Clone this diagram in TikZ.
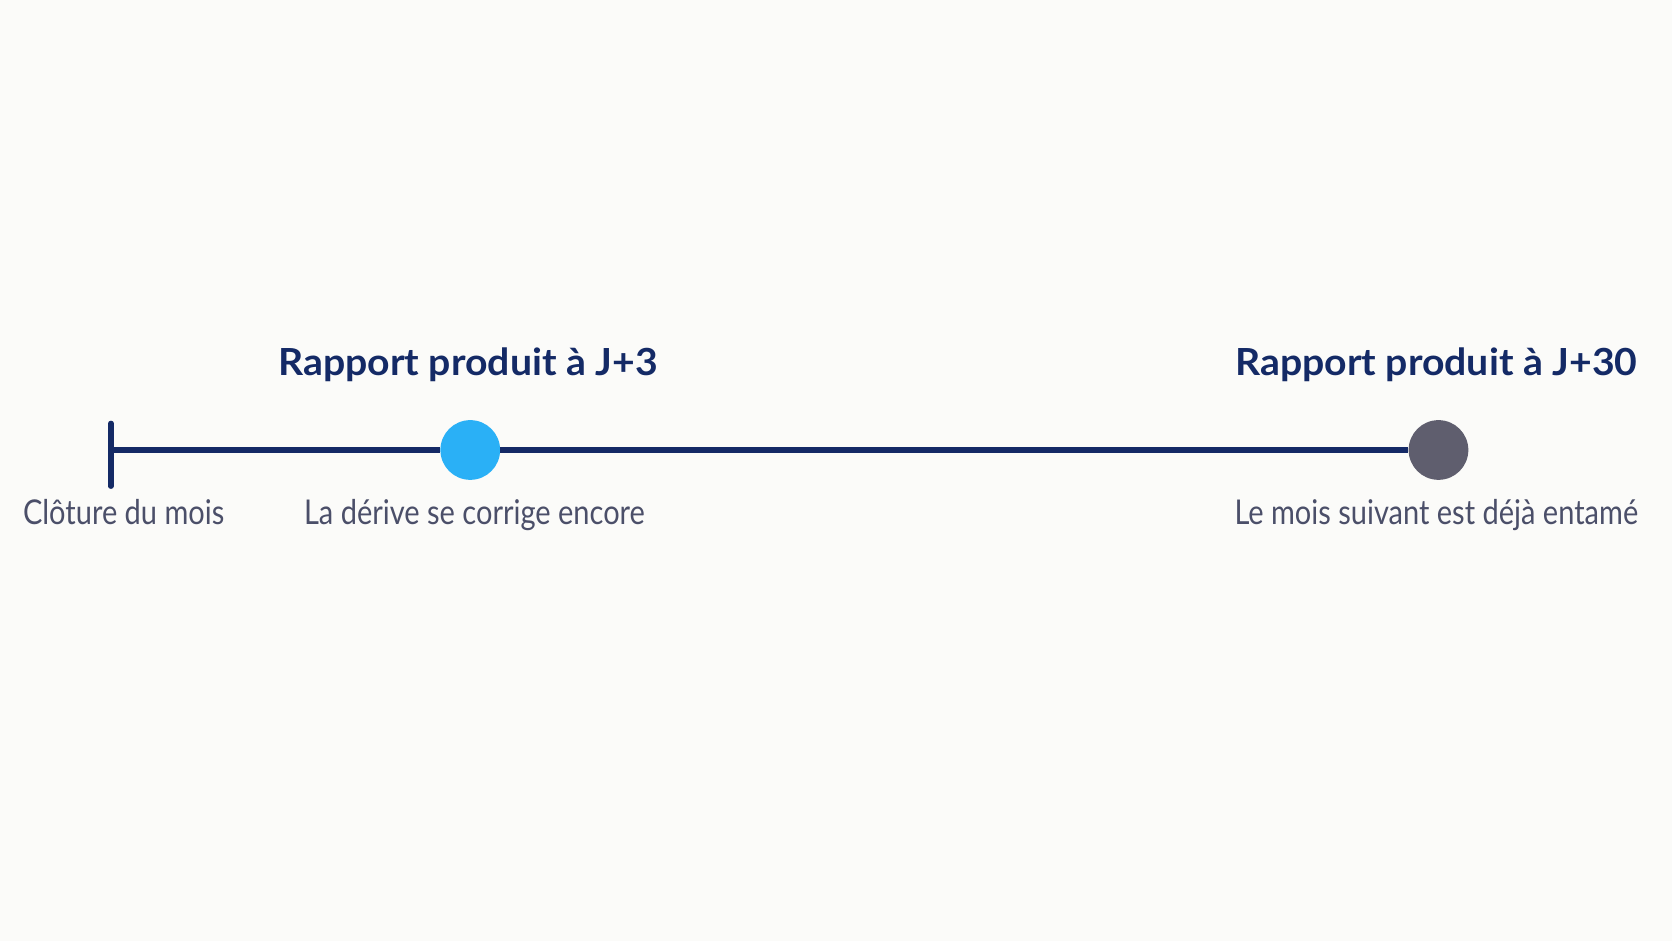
\documentclass[tikz,border=0pt]{standalone}
\usepackage{fontspec}
\setmainfont{Lato}
\newfontfamily\titlefont[FakeStretch=1.05]{Lato Bold}
\newfontfamily\labelfont[FakeStretch=0.85]{Lato}
\definecolor{bgpaper}{HTML}{FBFBF9}
\definecolor{navy}{HTML}{142A66}
\definecolor{dotblue}{HTML}{2AB0F6}
\definecolor{dotgray}{HTML}{5F5E6E}
\definecolor{labelgray}{HTML}{4B4F69}
\tikzset{
    dot/.style={circle, inner sep=0pt, minimum size=56pt},
    title/.style={anchor=base, text=navy, font=\titlefont\fontsize{35}{42}\selectfont},
    label/.style={anchor=base, text=labelgray, font=\labelfont\fontsize{32}{38}\selectfont},
    axis/.style={navy, line width=5pt}
}

\begin{document}
\begin{tikzpicture}[x=1pt, y=-1pt]
    \fill[bgpaper] (0,0) rectangle (1568,882);
    \coordinate (start) at (104,422);
    \coordinate (ticktop) at (104,397);
    \coordinate (tickbot) at (104,456);
    \node[dot, fill=dotblue] (j3) at (441,422) {};
    \node[dot, fill=dotgray] (j30) at (1349,422) {};
    \draw[axis] (start) -- (j3);
    \draw[axis] (j3) -- (j30);
    \draw[axis, line cap=round] (ticktop) -- (tickbot);
    \node[title] (t3) at (439,352) {Rapport produit à J+3};
    \node[title] (t30) at (1347,352) {Rapport produit à J+30};
    \node[label] (close) at (116,492) {Clôture du mois};
    \node[label] (drift) at (445,492) {La dérive se corrige encore};
    \node[label] (next) at (1347,492) {Le mois suivant est déjà entamé};
\end{tikzpicture}
\end{document}
